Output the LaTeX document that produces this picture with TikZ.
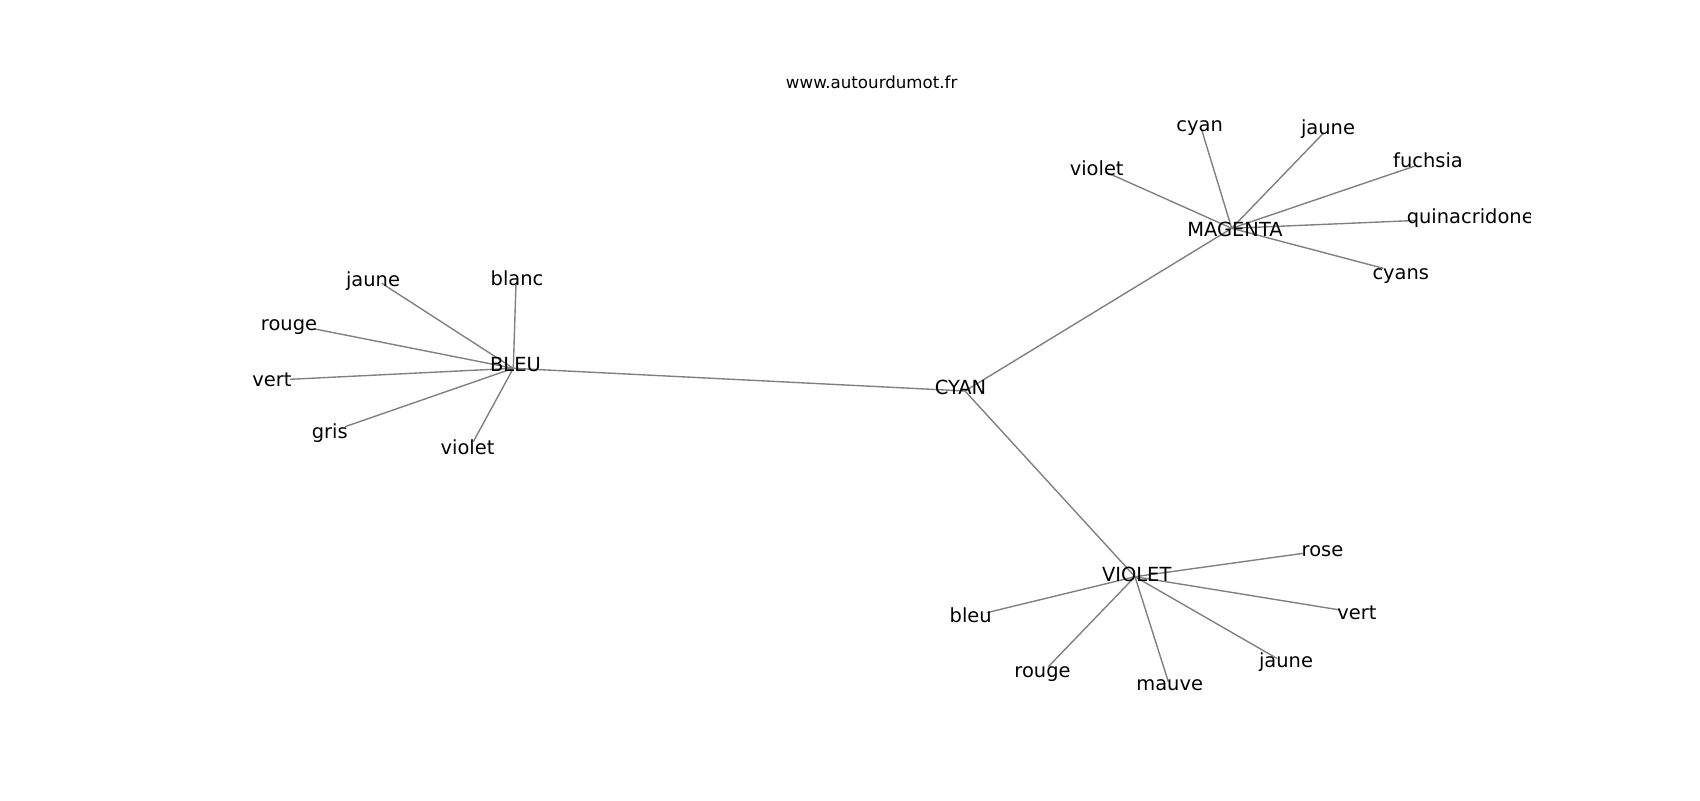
\documentclass[tikz,border=0pt]{standalone}
\usepackage{fontspec}
\setmainfont{DejaVu Sans}
\newcommand\lblfont{\fontsize{14}{16}\selectfont}
\newcommand\ttlfont{\fontsize{12}{14}\selectfont}
\tikzset{
  edgeline/.style={draw={rgb,255:red,128;green,128;blue,128}, line width=1pt},
  lbl/.style={font=\lblfont, inner sep=0pt, anchor=base, text=black},
  ttl/.style={font=\ttlfont, inner sep=0pt, anchor=base, text=black}
}
\begin{document}
\begin{tikzpicture}[x=0.72pt,y=-0.72pt]
\useasboundingbox (0,0) rectangle (1700,800);
\fill[white] (0,0) rectangle (1700,800);
\node[ttl] (title) at (871.7,88.3) {www.autourdumot.fr};
\begin{scope}
\clip (212.5,96) rectangle (1530,712);
% vertices
\coordinate (vCYAN) at (965,391);
\coordinate (vBLEU) at (513.3,368.3);
\coordinate (vMAG) at (1231.7,228.3);
\coordinate (vVIO) at (1135,576.7);
\coordinate (b-jaune) at (381.7,283.3);
\coordinate (b-blanc) at (516,283.3);
\coordinate (b-rouge) at (315,329);
\coordinate (b-vert) at (290,379.3);
\coordinate (b-gris) at (345,426.7);
\coordinate (b-violet) at (473.3,441.7);
\coordinate (m-cyan) at (1201.7,130);
\coordinate (m-jaune) at (1323.3,133.3);
\coordinate (m-violet) at (1105,171.7);
\coordinate (m-fuchsia) at (1415,166);
\coordinate (m-quin) at (1415,220.5);
\coordinate (m-cyans) at (1383.3,268.3);
\coordinate (v-rose) at (1303.3,553.3);
\coordinate (v-bleu) at (986.7,612.7);
\coordinate (v-vert) at (1340,610);
\coordinate (v-rouge) at (1048.3,666.7);
\coordinate (v-mauve) at (1168.3,681.7);
\coordinate (v-jaune) at (1276.7,658.3);
% edges
\draw[edgeline] (vCYAN) -- (vBLEU);
\draw[edgeline] (vCYAN) -- (vMAG);
\draw[edgeline] (vCYAN) -- (vVIO);
\foreach \t in {b-jaune,b-blanc,b-rouge,b-vert,b-gris,b-violet}
  \draw[edgeline] (vBLEU) -- (\t);
\foreach \t in {m-cyan,m-jaune,m-violet,m-fuchsia,m-quin,m-cyans}
  \draw[edgeline] (vMAG) -- (\t);
\foreach \t in {v-rose,v-bleu,v-vert,v-rouge,v-mauve,v-jaune}
  \draw[edgeline] (vVIO) -- (\t);
% labels
\node[lbl] (lCYAN) at (960.5,394.5) {CYAN};
\node[lbl] (lBLEU) at (515.5,371.7) {BLEU};
\node[lbl] (lMAG) at (1235,236) {MAGENTA};
\node[lbl] (lVIO) at (1136.7,581.7) {VIOLET};
\node[lbl] (lb-jaune) at (373,286) {jaune};
\node[lbl] (lb-blanc) at (517,285) {blanc};
\node[lbl] (lb-rouge) at (289,330) {rouge};
\node[lbl] (lb-vert) at (272,386) {vert};
\node[lbl] (lb-gris) at (329.7,438.3) {gris};
\node[lbl] (lb-violet) at (467.5,454.3) {violet};
\node[lbl] (lm-cyan) at (1199.7,131) {cyan};
\node[lbl] (lm-jaune) at (1328,134.3) {jaune};
\node[lbl] (lm-violet) at (1096.7,175.3) {violet};
\node[lbl] (lm-fuchsia) at (1428,167.7) {fuchsia};
\node[lbl,anchor=base west] (lm-quin) at (1406.5,223.5) {quinacridone};
\node[lbl] (lm-cyans) at (1400.8,279.3) {cyans};
\node[lbl] (lv-rose) at (1322.5,556.7) {rose};
\node[lbl] (lv-bleu) at (970.7,622.7) {bleu};
\node[lbl] (lv-vert) at (1357,619.3) {vert};
\node[lbl] (lv-rouge) at (1042.5,677.7) {rouge};
\node[lbl] (lv-mauve) at (1169.7,690) {mauve};
\node[lbl] (lv-jaune) at (1286,667.3) {jaune};
\end{scope}
\end{tikzpicture}
\end{document}
